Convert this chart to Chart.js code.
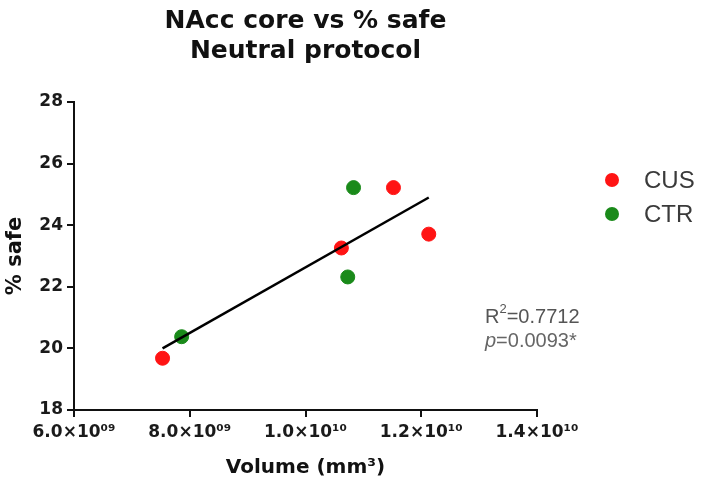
<!DOCTYPE html>
<html lang="en">
  <head>
    <meta charset="utf-8" />
    <title>NAcc core vs % safe</title>
    <style>
      * {
        padding: 0;
        margin: 0;
        box-sizing: border-box;
      }
      body {
        background: #ffffff;
        width: 707px;
        height: 487px;
        overflow: hidden;
      }
      #chart {
        display: block;
      }
    </style>
  </head>
  <body>
    <canvas id="chart" width="707" height="487"></canvas>
    <script src="https://cdn.jsdelivr.net/npm/chart.js@4.4.1/dist/chart.umd.min.js"></script>
    <script>
      // values (volume in mm3, % time in safe zone)
      const cusVolume = [7.53e9, 10.62e9, 11.52e9, 12.13e9];
      const cusSafe = [19.68, 23.26, 25.22, 23.71];
      const ctrVolume = [7.86e9, 10.73e9, 10.83e9];
      const ctrSafe = [20.38, 22.32, 25.22];
      // regression line end points
      const fitVolume = [7.53e9, 12.13e9];
      const fitSafe = [20.0, 24.9];

      const seriesNames = ["CUS", "CTR"];
      const seriesColors = ["#ff1414", "#1a8a1a"];
      const titleLines = ["NAcc core vs % safe", "Neutral protocol"];
      const statLines = ["0.7712", "0.0093*"];

      const toPoints = (xs, ys) => xs.map((x, i) => ({ x: x, y: ys[i] }));

      const sup = { 0: "⁰", 1: "¹", 2: "²", 3: "³", 4: "⁴", 5: "⁵", 6: "⁶", 7: "⁷", 8: "⁸", 9: "⁹" };
      const sciLabel = (v) => {
        const e = Math.floor(Math.log10(v) + 1e-9);
        const m = v / Math.pow(10, e);
        const ex = String(e).padStart(2, "0").split("").map((d) => sup[d]).join("");
        return m.toFixed(1) + "×10" + ex;
      };

      const BOLD = "'DejaVu Sans', sans-serif";
      const PLAIN = "'Liberation Sans', Arial, sans-serif";

      // title, legend and R2 / p text
      const extras = {
        id: "extras",
        afterDraw(chart) {
          const ctx = chart.ctx;
          const area = chart.chartArea;
          ctx.save();
          ctx.fillStyle = "#111";
          ctx.textAlign = "center";
          ctx.textBaseline = "middle";
          ctx.font = "bold 25px " + BOLD;
          const cx = (area.left + area.right) / 2;
          ctx.fillText(titleLines[0], cx, 21);
          ctx.fillText(titleLines[1], cx, 51);

          // legend
          ctx.textAlign = "left";
          ctx.font = "24px " + PLAIN;
          seriesNames.forEach((name, i) => {
            const y = 180 + i * 34;
            ctx.beginPath();
            ctx.arc(612, y, 7, 0, Math.PI * 2);
            ctx.fillStyle = seriesColors[i];
            ctx.fill();
            ctx.fillStyle = "#3a3a3a";
            ctx.fillText(name, 644, y + 1);
          });

          // stats
          ctx.fillStyle = "#555";
          ctx.font = "20px " + PLAIN;
          ctx.textBaseline = "alphabetic";
          let x = 485;
          ctx.fillText("R", x, 323);
          x += ctx.measureText("R").width;
          ctx.font = "13px " + PLAIN;
          ctx.fillText("2", x, 313);
          x += ctx.measureText("2").width;
          ctx.font = "20px " + PLAIN;
          ctx.fillText("=" + statLines[0], x, 323);

          x = 485;
          ctx.fillStyle = "#666";
          ctx.font = "italic 20px " + PLAIN;
          ctx.fillText("p", x, 347);
          x += ctx.measureText("p").width;
          ctx.font = "20px " + PLAIN;
          ctx.fillText("=" + statLines[1], x, 347);
          ctx.restore();
        },
      };

      const axisLine = {
        display: true,
        drawOnChartArea: false,
        drawTicks: true,
        tickLength: 7,
        tickWidth: 2,
        color: "#111",
        lineWidth: 2,
      };

      new Chart(document.getElementById("chart"), {
        type: "scatter",
        data: {
          datasets: [
            {
              label: seriesNames[0],
              data: toPoints(cusVolume, cusSafe),
              backgroundColor: seriesColors[0],
              borderColor: seriesColors[0],
              pointRadius: 7,
              order: 1,
            },
            {
              label: seriesNames[1],
              data: toPoints(ctrVolume, ctrSafe),
              backgroundColor: seriesColors[1],
              borderColor: seriesColors[1],
              pointRadius: 7,
              order: 1,
            },
            {
              label: "fit",
              type: "line",
              data: toPoints(fitVolume, fitSafe),
              borderColor: "#000",
              borderWidth: 2.5,
              pointRadius: 0,
              fill: false,
              order: 0,
            },
          ],
        },
        options: {
          responsive: false,
          animation: false,
          layout: { padding: { top: 102, right: 170, left: 0, bottom: 0 } },
          plugins: {
            legend: { display: false },
            tooltip: { enabled: false },
          },
          scales: {
            x: {
              type: "linear",
              min: 6e9,
              max: 1.4e10,
              afterFit: (s) => { s.height = 77; },
              grid: axisLine,
              border: { display: true, color: "#111", width: 2 },
              ticks: {
                stepSize: 2e9,
                color: "#1a1a1a",
                padding: 5,
                font: { family: BOLD, size: 17, weight: "bold" },
                callback: (v) => sciLabel(v),
              },
              title: {
                display: true,
                text: "Volume (mm³)",
                color: "#111",
                padding: { top: 0, bottom: 7 },
                font: { family: BOLD, size: 20, weight: "bold" },
              },
            },
            y: {
              min: 18,
              max: 28,
              afterFit: (s) => { s.width = 74; },
              grid: axisLine,
              border: { display: true, color: "#111", width: 2 },
              ticks: {
                stepSize: 2,
                color: "#1a1a1a",
                padding: 4,
                font: { family: BOLD, size: 17, weight: "bold" },
              },
              title: {
                display: true,
                text: "% safe",
                color: "#111",
                padding: { top: 3, bottom: 0 },
                font: { family: BOLD, size: 21, weight: "bold" },
              },
            },
          },
        },
        plugins: [extras],
      });
    </script>
  </body>
</html>
